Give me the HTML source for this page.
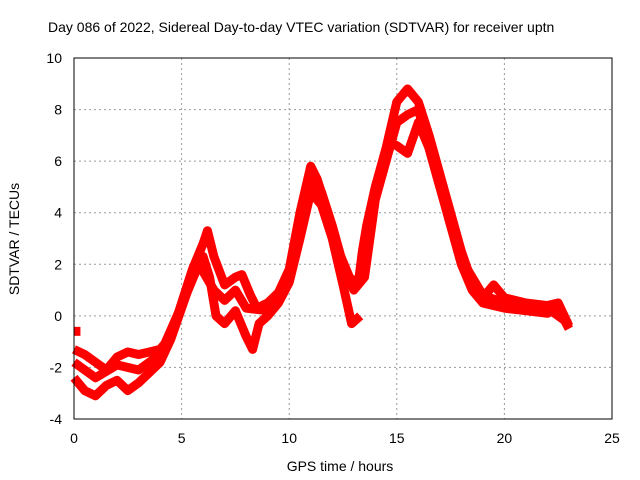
<!DOCTYPE html>
<html><head><meta charset="utf-8"><style>
body{margin:0;background:#fff;}
svg{display:block;font-family:"Liberation Sans",sans-serif;}
</style></head><body>
<svg id="chart" width="640" height="480">
<text x="48" y="32" font-size="14" fill="#000">Day 086 of 2022, Sidereal Day-to-day VTEC variation (SDTVAR) for receiver uptn</text>
<text x="340" y="471" font-size="14" text-anchor="middle">GPS time / hours</text>
<text transform="translate(19,239) rotate(-90)" font-size="14" text-anchor="middle">SDTVAR / TECUs</text>
<g id="grid"></g><g id="ticks"></g><g id="series"></g>
<rect x="74" y="58" width="538" height="361" fill="none" stroke="#000" stroke-width="1"/>
</svg>
<script>
const xTicks=[0,5,10,15,20,25];
const yTicks=[-4,-2,0,2,4,6,8,10];
const traceAx=[0,0.5,1,1.5,2,2.5,3,3.5,4,4.5,5,5.5,6,6.2,6.5,7,7.5,7.8,8.2,8.5,9,9.5,10,10.5,11,11.3,11.8,12.3,12.8,13.2,13.4,13.6,14,14.5,15,15.5,16,16.5,17,17.5,18,18.5,19,19.5,20,21,22,22.5,23];
const traceAy=[-1.3,-1.5,-1.8,-2.1,-1.6,-1.4,-1.5,-1.4,-1.3,-0.8,0.5,1.8,2.8,3.3,2.3,1.2,1.5,1.6,0.8,0.3,0.5,0.9,1.8,4,5.8,5.3,4,2.5,1.5,1.2,2.5,3.5,5,6.5,8.3,8.8,8.3,7,5.5,4,2.5,1.3,0.7,1.2,0.7,0.5,0.4,0.5,-0.4];
const traceBx=[0,0.5,1,1.5,2,2.5,3,3.5,4,4.5,5,5.5,6,6.3,6.6,7,7.5,8,8.3,8.6,9,9.5,10,10.5,11,11.5,12,12.5,12.9,13.3];
const traceBy=[-2.4,-2.9,-3.1,-2.7,-2.5,-2.9,-2.6,-2.2,-1.8,-0.9,0.3,1.5,2.3,1.5,0,-0.3,0.2,-0.8,-1.3,-0.3,0,0.5,1.3,3,4.8,4.3,3,1.2,-0.3,0];
const traceDx=[14.5,15,15.5,16,16.5,17,17.5,18,18.5,19,20,21,22,22.5,23];
const traceDy=[6.8,6.6,6.3,7.5,6.5,5,3.5,2,1,0.5,0.3,0.2,0.1,0.3,-0.5];
const traceCx=[0,1,2,3,4,5,5.8,6.5,7,7.5,8,9,10,10.5,11,11.5,12,12.5,13,13.5,14,15,15.5,16,17,18,19,20,21,22,23];
const traceCy=[-1.8,-2.4,-1.9,-2.1,-1.5,0.4,2,1,0.6,1,0.3,0.2,1.5,3.5,5.2,4.8,3.5,2,1,1.5,4.5,7.5,7.8,8,5,2.2,0.8,0.5,0.4,0.3,-0.3];
const traceEx=[0,0.3];
const traceEy=[-0.6,-0.6];
const NS="http://www.w3.org/2000/svg";
const X=v=>74+v*538/25, Y=v=>419-(v+4)*361/14;
const grid=document.getElementById('grid'), ticks=document.getElementById('ticks'), ser=document.getElementById('series');
function mk(tag,attrs,parent){const e=document.createElementNS(NS,tag);for(const k in attrs)e.setAttribute(k,attrs[k]);parent.appendChild(e);return e;}
xTicks.forEach(t=>{
  if(t>0&&t<25){const g=mk('line',{x1:X(t),x2:X(t),y1:58,y2:419,stroke:'#999','stroke-dasharray':'2,3'},grid);
  
  }
  const tx=mk('text',{x:X(t),y:443,'font-size':14,'text-anchor':'middle'},ticks);tx.textContent=t;
  
  
});
yTicks.forEach(t=>{
  if(t>-4&&t<10){const g=mk('line',{x1:74,x2:612,y1:Y(t),y2:Y(t),stroke:'#999','stroke-dasharray':'2,3'},grid);
  
  }
  const tx=mk('text',{x:62,y:Y(t)+5,'font-size':14,'text-anchor':'end'},ticks);tx.textContent=t;
  
  
});
function draw(xs,ys,name){
  const p=mk('polyline',{points:xs.map((x,i)=>X(x)+','+Y(ys[i])).join(' '),fill:'none',stroke:'#f00','stroke-width':9,'stroke-linejoin':'round','stroke-linecap':'butt'},ser);
  
  
}
draw(traceAx,traceAy,'trace-a');
draw(traceBx,traceBy,'trace-b');
draw(traceCx,traceCy,'trace-c');
draw(traceDx,traceDy,'trace-d');
draw(traceEx,traceEy,'trace-e');
</script>
</body></html>
